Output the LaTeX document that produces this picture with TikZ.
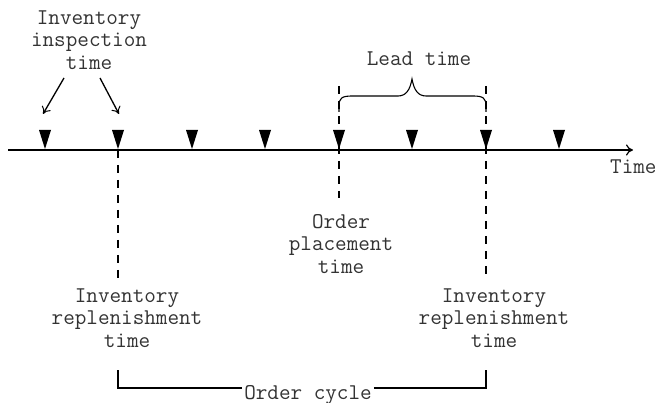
\documentclass[tikz,border=0pt]{standalone}
\usetikzlibrary{arrows.meta}
\begin{document}
\begin{tikzpicture}[x=1pt,y=-1pt,
  lbl/.style={font=\ttfamily\fontsize{22.5}{22.5}\selectfont, align=center, inner sep=0pt, text=black!80},
  axisline/.style={line width=1.6pt, -{To[length=7pt,width=11pt,line width=1.2pt]}},
  marker/.style={fill=black},
  guide/.style={line width=1.2pt, dash pattern=on 8pt off 7pt},
  pointer/.style={line width=1.3pt, -{To[length=7pt,width=10pt,line width=1pt]}},
  bracket/.style={line width=1.1pt}]
\useasboundingbox (0,0) rectangle (656,403);
% axis
\coordinate (a0) at (8,150);
\coordinate (a1) at (633,150);
\draw[axisline] (a0) -- (a1);
\node[lbl, anchor=north west] (time) at (610,160) {Time};
% markers
\foreach \i/\x in {1/45,2/118,3/192,4/265,5/339,6/412,7/486,8/559}{
  \coordinate (t\i) at (\x,150);
  \fill[marker] (\x-6,130) -- (\x+6,130) -- (\x,149) -- cycle;
}
% inspection
\node[lbl] (insp) at (89,40) {Inventory\\inspection\\time};
\coordinate (p1s) at (64,78);
\coordinate (p1e) at (43,114);
\coordinate (p2s) at (100,78);
\coordinate (p2e) at (119,114);
\draw[pointer] (p1s) -- (p1e);
\draw[pointer] (p2s) -- (p2e);
% guides
\coordinate (g2a) at (118,150); \coordinate (g2b) at (118,278);
\coordinate (g5a) at (339,86);  \coordinate (g5b) at (339,198);
\coordinate (g7a) at (486,86);  \coordinate (g7b) at (486,278);
\draw[guide] (g2a) -- (g2b);
\draw[guide] (g5a) -- (g5b);
\draw[guide] (g7a) -- (g7b);
% lead time brace
\node[lbl] (lead) at (419,59) {Lead time};
\draw[bracket] (339,112) -- (339,106) .. controls (339,98) and (342,96) .. (352,96)
  -- (398,96) .. controls (406,96) and (410,90) .. (412,79)
  .. controls (414,90) and (418,96) .. (426,96)
  -- (473,96) .. controls (483,96) and (486,98) .. (486,106) -- (486,112);
% labels below
\node[lbl] (place) at (341,244) {Order\\placement\\time};
\node[lbl] (rep1) at (127,318) {Inventory\\replenishment\\time};
\node[lbl] (rep2) at (494,318) {Inventory\\replenishment\\time};
% order cycle
\node[lbl, inner xsep=2pt] (cycle) at (308,395) {Order cycle};
\coordinate (c1) at (118,370);
\coordinate (c2) at (486,370);
\draw[bracket] (c1) -- (118,388) -- (cycle.west |- 0,388);
\draw[bracket] (cycle.east |- 0,388) -- (486,388) -- (c2);
\end{tikzpicture}
\end{document}
